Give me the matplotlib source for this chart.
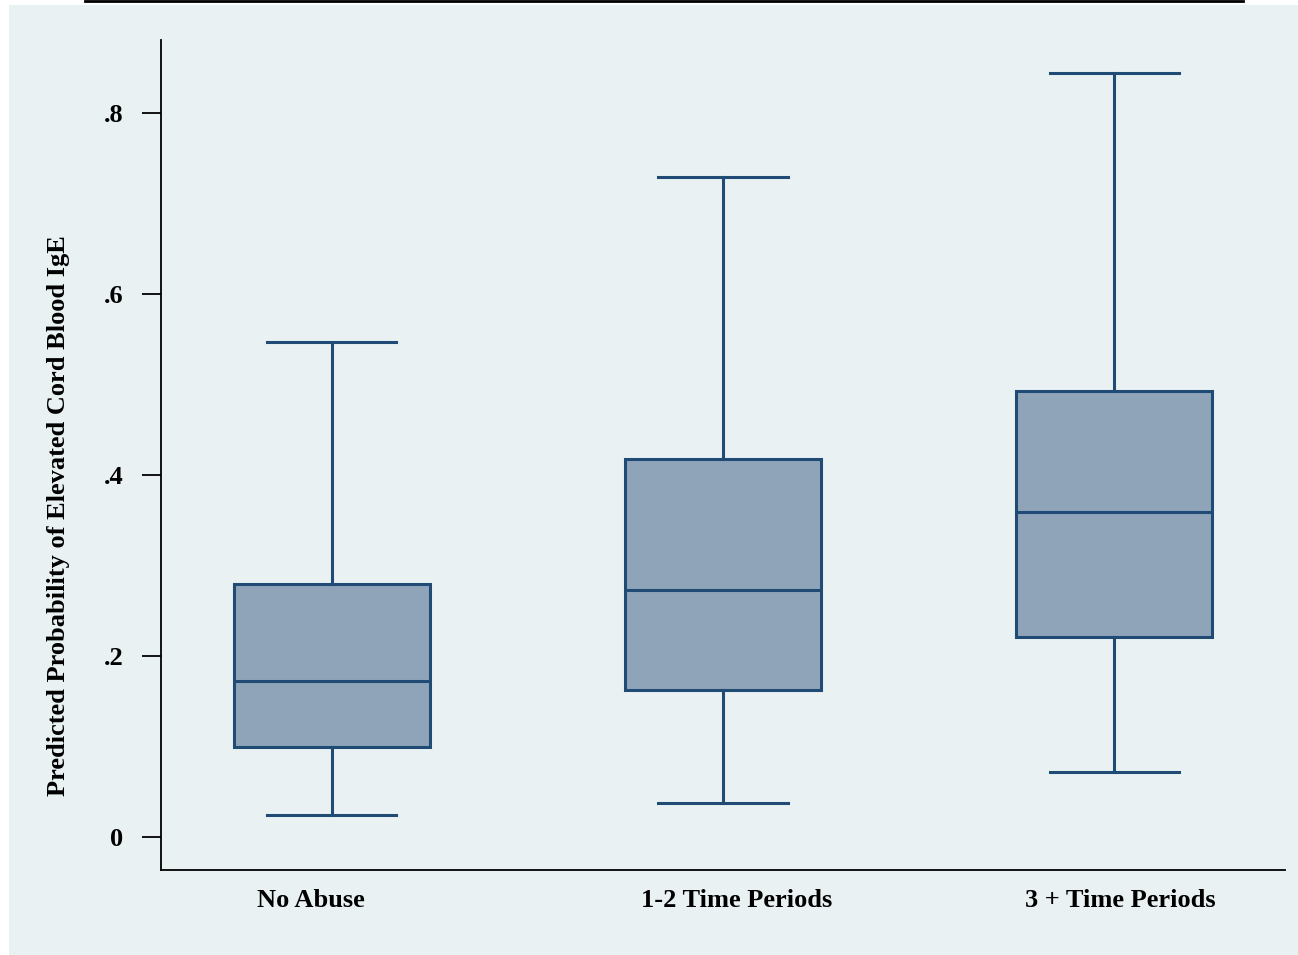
import matplotlib
matplotlib.use("Agg")
import matplotlib.pyplot as plt
from matplotlib.patches import Rectangle
from matplotlib.lines import Line2D

# box summary values
groups = ["No Abuse", "1-2 Time Periods", "3 + Time Periods"]
whislo = [0.024, 0.038, 0.072]
q1 = [0.099, 0.162, 0.221]
med = [0.172, 0.273, 0.359]
q3 = [0.280, 0.418, 0.493]
whishi = [0.547, 0.729, 0.844]

yticks = [0, 0.2, 0.4, 0.6, 0.8]
yticklabels = ["0", ".2", ".4", ".6", ".8"]

edge = "#1f4b75"
face = "#8fa4b9"
panel = "#e9f1f3"

plt.rcParams["font.family"] = ["Liberation Serif", "DejaVu Serif"]
plt.rcParams["font.weight"] = "bold"

fig = plt.figure(figsize=(12.98, 9.55), dpi=100)
fig.patch.set_facecolor("white")
fig.patches.append(Rectangle((9 / 1298, 0), 1 - 9 / 1298, 1 - 5 / 955,
                             transform=fig.transFigure, facecolor=panel,
                             edgecolor="none", zorder=-10))
fig.lines.append(Line2D([85 / 1298, 1243 / 1298], [0.999, 0.999],
                        transform=fig.transFigure, color="black", lw=2))

ax = fig.add_axes([161 / 1298, 85 / 955, 1124 / 1298, 830 / 955])
ax.set_zorder(5)
ax.patch.set_visible(False)

stats = []
for i in range(len(groups)):
    stats.append({"whislo": whislo[i], "q1": q1[i], "med": med[i],
                  "q3": q3[i], "whishi": whishi[i], "fliers": []})

ax.bxp(stats, positions=[1, 2, 3], widths=0.5, patch_artist=True,
       showfliers=False, capwidths=0.33,
       boxprops={"facecolor": face, "edgecolor": edge, "linewidth": 2.2},
       medianprops={"color": edge, "linewidth": 2.2},
       whiskerprops={"color": edge, "linewidth": 2.2},
       capprops={"color": edge, "linewidth": 2.2})

ax.set_xlim(0.563, 3.437)
ax.set_ylim(-0.0365, 0.8807)
ax.set_yticks(yticks)
ax.set_yticklabels(yticklabels, fontsize=19, fontweight="bold")
ax.set_xticks([0.946, 2.036, 3.015])
ax.set_xticklabels(groups, fontsize=19, fontweight="bold")
ax.tick_params(axis="x", length=0, pad=14)
ax.tick_params(axis="y", length=14, width=1.3, pad=13)
ax.spines["top"].set_visible(False)
ax.spines["right"].set_visible(False)
ax.spines["left"].set_linewidth(1.3)
ax.spines["bottom"].set_linewidth(1.3)
ax.set_ylabel("Predicted Probability of Elevated Cord Blood IgE",
              fontsize=19, fontweight="bold")
ax.yaxis.set_label_coords(-0.081, 0.4265)

fig.savefig("out.png", dpi=100, facecolor=fig.get_facecolor())
